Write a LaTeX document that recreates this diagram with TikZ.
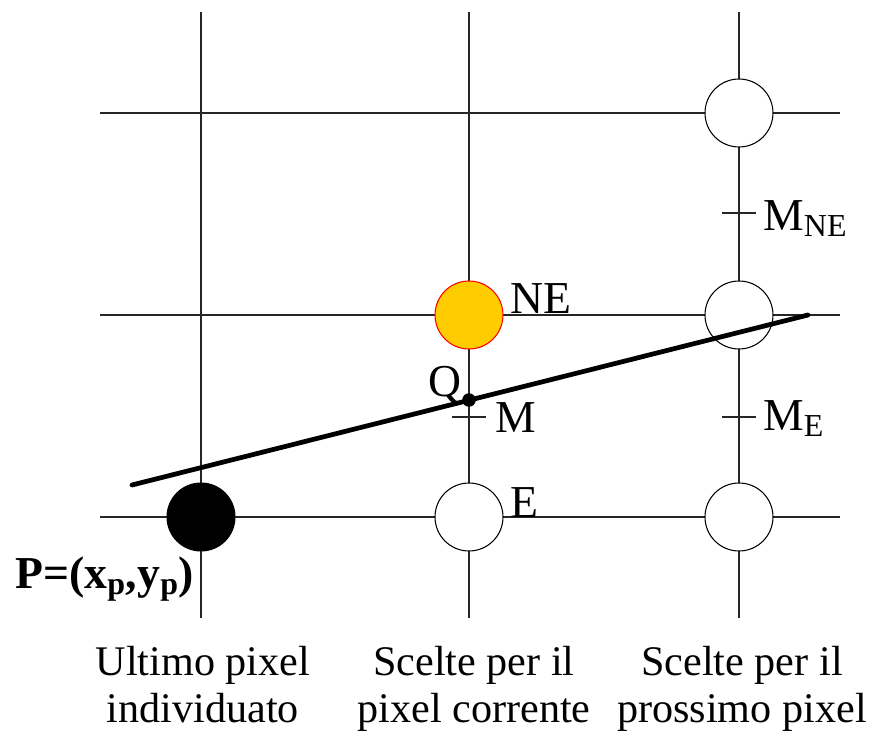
\documentclass[tikz,border=0pt]{standalone}
\usepackage{fontspec}
\setmainfont{Liberation Serif}
\usetikzlibrary{positioning}
\definecolor{pixelgold}{RGB}{255,204,0}

\begin{document}
\begin{tikzpicture}[x=0.02cm, y=-0.02cm,
    gridline/.style={draw=black!85, line width=0.6pt},
    pixel/.style={circle, draw=black, line width=0.6pt, fill=white, minimum size=1.36cm, inner sep=0pt},
    mark label/.style={inner sep=0pt, anchor=base west, font=\fontsize{26}{30}\selectfont},
    caption/.style={inner sep=0pt, anchor=base, align=center, font=\fontsize{24}{26.6}\selectfont}]
    \useasboundingbox (0,0) rectangle (877,737);

    % grid
    \foreach \gx in {201, 469, 739}
        \draw [gridline] (\gx, 12) -- (\gx, 618);
    \foreach \gy in {113, 315, 517}
        \draw [gridline] (100, \gy) -- (840, \gy);

    % pixels
    \node [pixel, fill=black] (lastPixel) at (201, 517) {};
    \node [pixel] (pixelE) at (469, 517) {};
    \node [pixel, fill=pixelgold, draw=red] (pixelNE) at (469, 315) {};
    \node [pixel] (nextE) at (739, 517) {};
    \node [pixel] (nextNE) at (739, 315) {};
    \node [pixel] (nextNNE) at (739, 113) {};

    % midpoints
    \coordinate (midM) at (469, 417);
    \coordinate (midME) at (739, 417);
    \coordinate (midMNE) at (739, 213);
    \foreach \mid in {midM, midME, midMNE}
        \draw [gridline] ([xshift=-0.34cm]\mid) -- ([xshift=0.34cm]\mid);

    % the line
    \coordinate (lineStart) at (132, 485);
    \coordinate (lineEnd) at (808, 315);
    \draw [line width=2.7pt, line cap=round] (lineStart) -- (lineEnd);
    \node [circle, fill=black, inner sep=0pt, minimum size=0.27cm] (pointQ) at (469, 400) {};

    % labels
    \node [mark label] (labelNE) at (510, 313) {NE};
    \node [mark label] (labelE) at (510, 517) {E};
    \node [mark label] (labelQ) at (428, 396) {Q};
    \node [mark label] (labelM) at (495, 432) {M};
    \node [mark label] (labelMNE) at (763, 230) {M\textsubscript{NE}};
    \node [mark label] (labelME) at (763, 430) {M\textsubscript{E}};
    \node [mark label] (labelP) at (15, 588) {\textbf{P=(x\textsubscript{p},y\textsubscript{p})}};

    % captions
    \node [caption] (captionLast) at (203, 722) {Ultimo pixel\\individuato};
    \node [caption] (captionCurrent) at (474, 722) {Scelte per il\\pixel corrente};
    \node [caption] (captionNext) at (742, 722) {Scelte per il\\prossimo pixel};
\end{tikzpicture}
\end{document}
